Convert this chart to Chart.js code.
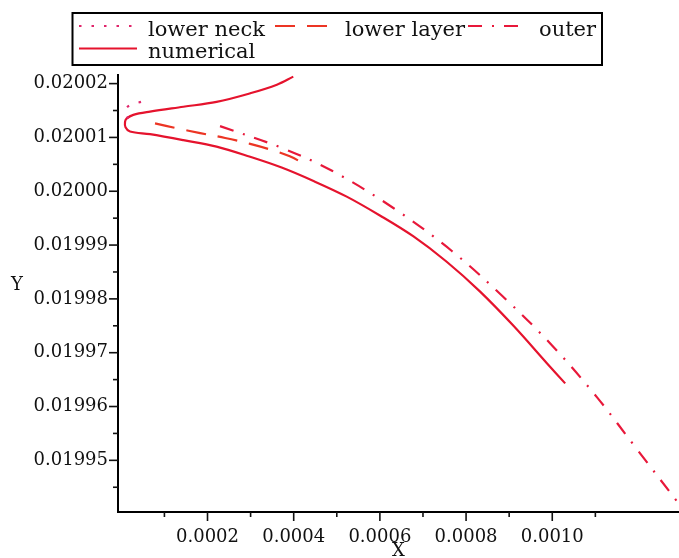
<!DOCTYPE html>
<html>
<head>
<meta charset="utf-8">
<script src="https://cdn.jsdelivr.net/npm/chart.js@4.4.1/dist/chart.umd.min.js"></script>
<style>
    html, body { margin: 0; padding: 0; background: #fff; }
    #wrap { width: 679px; height: 558px; position: relative; }
</style>
</head>
<body>
<div id="wrap"><canvas id="chart-main"></canvas></div>
<script>
// lower neck (dotted)
const neckX = [0.0000457, 0.0000272, 0.0000132, 0.0000097, 0.0000132, 0.0000318];
const neckY = [0.0200166, 0.0200162, 0.0200156, 0.0200147, 0.0200138, 0.0200131];

// lower layer (dashed)
const layerX = [0.0000782, 0.000129, 0.000183, 0.000241, 0.000299, 0.000352, 0.000391, 0.000433];
const layerY = [0.0200126, 0.0200117, 0.0200108, 0.0200099, 0.0200088, 0.0200076, 0.0200065, 0.0200047];

// outer (dash-dot)
const outerX = [0.000229, 0.000371, 0.000489, 0.000633, 0.000767, 0.000886, 0.000999, 0.001104, 0.001199, 0.001294];
const outerY = [0.0200121, 0.0200081, 0.0200038, 0.0199968, 0.0199889, 0.0199804, 0.0199714, 0.0199617, 0.0199518, 0.0199419];

// numerical (solid)
const numX = [0.000399, 0.000361, 0.000299, 0.000221, 0.000144, 0.0000666, 0.0000278, 0.0000121, 0.0000086,
    0.0000097, 0.0000202, 0.0000666, 0.000144, 0.000221, 0.000299, 0.000372, 0.000446, 0.000523, 0.000600,
    0.000678, 0.000755, 0.000832, 0.000910, 0.000987, 0.001030];
const numY = [0.0200213, 0.0200198, 0.0200182, 0.0200166, 0.0200157, 0.0200148, 0.0200142, 0.0200135, 0.0200129,
    0.0200119, 0.0200111, 0.0200106, 0.0200095, 0.0200083, 0.0200064, 0.0200044, 0.0200019, 0.0199990, 0.0199955,
    0.0199916, 0.0199869, 0.0199814, 0.0199750, 0.0199681, 0.0199643];

// axes
const xMajor = [0.0002, 0.0004, 0.0006, 0.0008, 0.0010];
const xLabels = ['0.0002', '0.0004', '0.0006', '0.0008', '0.0010'];
const xMinor = [0.0001, 0.0003, 0.0005, 0.0007, 0.0009, 0.0011];
const yMajor = [0.01995, 0.01996, 0.01997, 0.01998, 0.01999, 0.02000, 0.02001, 0.02002];
const yLabels = ['0.01995', '0.01996', '0.01997', '0.01998', '0.01999', '0.02000', '0.02001', '0.02002'];
const yMinor = [0.019945, 0.019955, 0.019965, 0.019975, 0.019985, 0.019995, 0.020005, 0.020015];

const seriesNames = ['lower neck', 'lower layer', 'outer', 'numerical'];

const SERIF = '"DejaVu Serif", "Liberation Serif", serif';

function toPoints(xs, ys) {
    return xs.map(function (x, i) { return { x: x, y: ys[i] }; });
}

// マイナー目盛りも含めた目盛り一覧
function buildTicks(major, minor) {
    return major.concat(minor).sort(function (a, b) { return a - b; }).map(function (v) { return { value: v }; });
}

function labelFor(values, labels, v) {
    for (let i = 0; i < values.length; i++) {
        if (Math.abs(values[i] - v) < 1e-9) return labels[i];
    }
    return '';
}

// legend layout: [dataset index, line start, line end, text x] per row
const legendRows = [
    [[0, 79, 132, 148], [1, 275, 332, 345], [2, 468, 524, 539]],
    [[3, 79, 137, 148]]
];
const legendLineY = [26, 48.5];
const legendTextY = [36, 58];

const decorPlugin = {
    id: 'decor',
    afterDraw: function (chart) {
        const ctx = chart.ctx;
        const xs = chart.scales.x;
        const ys = chart.scales.y;
        ctx.save();
        ctx.strokeStyle = '#111';
        ctx.lineWidth = 1.6;
        ctx.setLineDash([]);
        // tick marks (major longer)
        xs.ticks.forEach(function (t) {
            const p = xs.getPixelForValue(t.value);
            const len = t.label ? 9 : 5;
            ctx.beginPath();
            ctx.moveTo(p, xs.top);
            ctx.lineTo(p, xs.top + len);
            ctx.stroke();
        });
        ys.ticks.forEach(function (t) {
            const p = ys.getPixelForValue(t.value);
            const len = t.label ? 9 : 5;
            ctx.beginPath();
            ctx.moveTo(ys.right - len, p);
            ctx.lineTo(ys.right, p);
            ctx.stroke();
        });

        // Y title (horizontal)
        ctx.fillStyle = '#111';
        ctx.font = '18px ' + SERIF;
        ctx.textAlign = 'center';
        ctx.textBaseline = 'middle';
        ctx.fillText('Y', 17, 285);

        // legend
        ctx.lineWidth = 2;
        ctx.strokeStyle = '#000';
        ctx.strokeRect(72.5, 13, 529.5, 52);
        ctx.font = '21px ' + SERIF;
        ctx.textAlign = 'left';
        ctx.textBaseline = 'alphabetic';
        legendRows.forEach(function (row, r) {
            row.forEach(function (item) {
                const ds = chart.data.datasets[item[0]];
                ctx.setLineDash(ds.borderDash || []);
                ctx.strokeStyle = ds.borderColor;
                ctx.lineWidth = ds.borderWidth;
                ctx.beginPath();
                ctx.moveTo(item[1], legendLineY[r]);
                ctx.lineTo(item[2], legendLineY[r]);
                ctx.stroke();
                ctx.setLineDash([]);
                ctx.fillStyle = '#111';
                ctx.fillText(ds.label, item[3], legendTextY[r]);
            });
        });
        ctx.restore();
    }
};

const datasets = [
    { label: seriesNames[0], data: toPoints(neckX, neckY), borderColor: '#e0256a', borderDash: [2.5, 10] },
    { label: seriesNames[1], data: toPoints(layerX, layerY), borderColor: '#ec3524', borderDash: [20, 12] },
    { label: seriesNames[2], data: toPoints(outerX, outerY), borderColor: '#e8183a', borderDash: [14, 10, 2, 10] },
    { label: seriesNames[3], data: toPoints(numX, numY), borderColor: '#e5132d', borderDash: [] }
];
datasets.forEach(function (ds) {
    ds.showLine = true;
    ds.fill = false;
    ds.pointRadius = 0;
    ds.borderWidth = 2.2;
    ds.tension = 0.35;
    ds.borderCapStyle = 'butt';
});

const options = {
    responsive: true,
    maintainAspectRatio: false,
    animation: false,
    layout: { padding: { top: 75, right: 0, left: 0, bottom: 0 } },
    scales: {
        x: {
            type: 'linear',
            min: -0.0000077,
            max: 0.0012941,
            afterBuildTicks: function (scale) { scale.ticks = buildTicks(xMajor, xMinor); },
            afterFit: function (scale) { scale.height = 46; },
            grid: { display: false, drawTicks: false },
            border: { display: true, color: '#000', width: 2 },
            ticks: {
                autoSkip: false,
                maxRotation: 0,
                padding: 15,
                color: '#111',
                font: { family: SERIF, size: 18 },
                callback: function (value) { return labelFor(xMajor, xLabels, value); }
            },
            title: {
                display: true,
                text: 'X',
                color: '#111',
                font: { family: SERIF, size: 18, lineHeight: 0.7 },
                padding: 0
            }
        },
        y: {
            type: 'linear',
            min: 0.0199404,
            max: 0.0200216,
            afterBuildTicks: function (scale) { scale.ticks = buildTicks(yMajor, yMinor); },
            afterFit: function (scale) { scale.width = 118; },
            grid: { display: false, drawTicks: false },
            border: { display: true, color: '#000', width: 2 },
            ticks: {
                autoSkip: false,
                padding: 10,
                color: '#111',
                font: { family: SERIF, size: 18 },
                callback: function (value) { return labelFor(yMajor, yLabels, value); }
            }
        }
    },
    plugins: {
        legend: { display: false },
        tooltip: { enabled: false }
    }
};

const ctx = document.getElementById('chart-main').getContext('2d');
const chart = new Chart(ctx, {
    type: 'scatter',
    data: { datasets: datasets },
    options: options,
    plugins: [decorPlugin]
});
</script>
</body>
</html>
